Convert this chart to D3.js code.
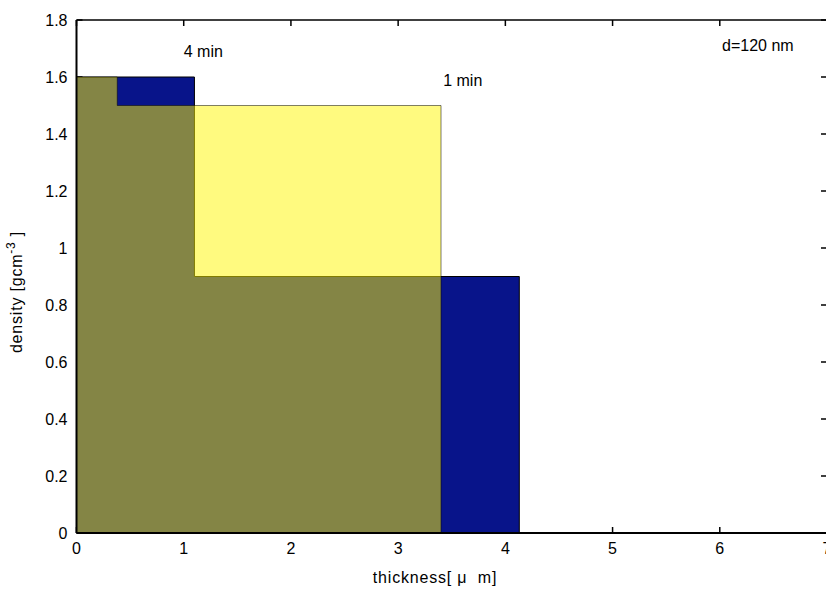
<!DOCTYPE html>
<html>
<head>
<meta charset="utf-8">
<script src="https://cdn.jsdelivr.net/npm/d3@7"></script>
<style>
  html, body { margin: 0; padding: 0; background: #fff; }
  svg { display: block; }
  text { font-family: "Liberation Sans", Arial, sans-serif; fill: #000; }
</style>
</head>
<body>
<svg id="chart" width="826" height="589"></svg>
<script>
// Density profiles (step functions): layer boundaries in µm and density per layer
const edges4min = [0, 1.1, 4.13];
const density4min = [1.6, 0.9];
const edges1min = [0, 0.38, 3.4];
const density1min = [1.6, 1.5];

const xTicks = [0, 1, 2, 3, 4, 5, 6, 7];
const yTicks = [0, 0.2, 0.4, 0.6, 0.8, 1, 1.2, 1.4, 1.6, 1.8];
const yTickLabels = ["0", "0.2", "0.4", "0.6", "0.8", "1", "1.2", "1.4", "1.6", "1.8"];

const seriesLabels = [
  { text: "4 min", x: 1.0, y: 1.67 },
  { text: "1 min", x: 3.42, y: 1.57 }
];
const noteText = "d=120 nm";

const svg = d3.select("#chart");
const mLeft = 76.5, mRight = 827, mTop = 20, mBottom = 533;

const x = d3.scaleLinear().domain([0, 7]).range([mLeft, mRight]);
const y = d3.scaleLinear().domain([0, 1.8]).range([mBottom, mTop]);

// turn boundaries + layer densities into step points
function stepPoints(edges, dens) {
  const pts = dens.map((d, i) => ({ x: edges[i], y: d }));
  pts.push({ x: edges[edges.length - 1], y: dens[dens.length - 1] });
  return pts;
}

const area = d3.area()
  .curve(d3.curveStepAfter)
  .x(d => x(d.x))
  .y0(y(0))
  .y1(d => y(d.y));

// inward ticks on all four sides
const tickLen = 6;
const tk = svg.append("g").attr("stroke", "#000").attr("stroke-width", 1.5);
xTicks.forEach(v => {
  tk.append("line").attr("x1", x(v)).attr("x2", x(v)).attr("y1", mBottom).attr("y2", mBottom - tickLen);
  tk.append("line").attr("x1", x(v)).attr("x2", x(v)).attr("y1", mTop).attr("y2", mTop + tickLen);
});
yTicks.forEach(v => {
  tk.append("line").attr("x1", mLeft).attr("x2", mLeft + tickLen).attr("y1", y(v)).attr("y2", y(v));
  tk.append("line").attr("x1", mRight).attr("x2", mRight - tickLen).attr("y1", y(v)).attr("y2", y(v));
});

// 4 min profile (opaque), then 1 min profile (translucent) on top
svg.append("path")
  .datum(stepPoints(edges4min, density4min))
  .attr("d", area)
  .attr("fill", "#08148a")
  .attr("stroke", "#000")
  .attr("stroke-width", 1);

svg.append("path")
  .datum(stepPoints(edges1min, density1min))
  .attr("d", area)
  .attr("fill", "#fff500")
  .attr("fill-opacity", 0.5)
  .attr("stroke", "#000")
  .attr("stroke-opacity", 0.5)
  .attr("stroke-width", 1);

// axis box
const box = svg.append("g").attr("stroke", "#000").attr("fill", "none");
box.append("line").attr("x1", mLeft).attr("x2", mRight).attr("y1", mBottom).attr("y2", mBottom).attr("stroke-width", 2);
box.append("line").attr("x1", mLeft).attr("x2", mLeft).attr("y1", mTop).attr("y2", mBottom).attr("stroke-width", 2);
box.append("line").attr("x1", mLeft).attr("x2", mRight).attr("y1", mTop).attr("y2", mTop).attr("stroke-width", 1.5);
box.append("line").attr("x1", mRight).attr("x2", mRight).attr("y1", mTop).attr("y2", mBottom).attr("stroke-width", 1.5);

// tick labels
const fs = 16;
svg.append("g").selectAll("text").data(xTicks).join("text")
  .attr("x", d => x(d)).attr("y", mBottom + 21)
  .attr("text-anchor", "middle").attr("font-size", fs)
  .text(d => d);

svg.append("g").selectAll("text").data(yTicks).join("text")
  .attr("x", mLeft - 9).attr("y", d => y(d) + 6)
  .attr("text-anchor", "end").attr("font-size", fs)
  .text((d, i) => yTickLabels[i]);

// series labels and note
svg.append("g").selectAll("text").data(seriesLabels).join("text")
  .attr("x", d => x(d.x)).attr("y", d => y(d.y))
  .attr("font-size", fs)
  .text(d => d.text);

svg.append("text").attr("x", 722).attr("y", 51).attr("font-size", fs).text(noteText);

// axis titles
svg.append("text")
  .attr("x", 435).attr("y", 583)
  .attr("text-anchor", "middle").attr("font-size", 16)
  .attr("letter-spacing", 0.8)
  .attr("xml:space", "preserve")
  .text("thickness[ μ  m]");

const yl = svg.append("text")
  .attr("transform", "translate(22,292) rotate(-90)")
  .attr("text-anchor", "middle").attr("font-size", 16)
  .attr("letter-spacing", 0.8);
yl.append("tspan").text("density [gcm");
yl.append("tspan").attr("font-size", 12).attr("dy", -7).text("-3");
yl.append("tspan").attr("dy", 7).text(" ]");
</script>
</body>
</html>
